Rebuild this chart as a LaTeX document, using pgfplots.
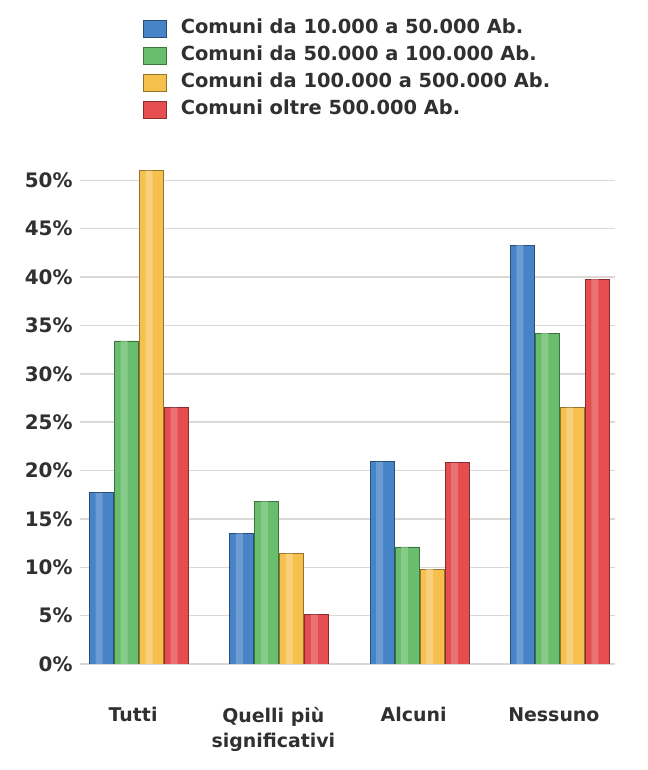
\documentclass[border=0pt]{standalone}
\usepackage{pgfplots}
\usepackage{pgfplotstable}
\pgfplotsset{compat=1.18}
\usepackage{fontspec}
\setmainfont{DejaVu Sans}
\definecolor{cBlue}{HTML}{4683C7}
\definecolor{cGreen}{HTML}{68BE6C}
\definecolor{cYellow}{HTML}{F5C04C}
\definecolor{cRed}{HTML}{E54D4F}
\definecolor{txt}{HTML}{303030}
\definecolor{gridc}{HTML}{DCD8D5}
\pgfplotstableread{
x blue green yellow red
0 17.7 33.4 51.0 26.5
1 13.5 16.8 11.4 5.1
2 20.9 12.1 9.8 20.8
3 43.3 34.2 26.5 39.8
}\datatab
\begin{document}
\begin{tikzpicture}[x=1bp,y=1bp]
\path[use as bounding box] (0,0) rectangle (648,770);
\begin{axis}[
  at={(80bp,106bp)}, anchor=south west,
  scale only axis, width=535bp, height=503bp,
  xmin=-0.421, xmax=3.393, ymin=0, ymax=52,
  ybar, bar width=24bp,
  axis line style={draw=none},
  major tick length=0pt,
  ymajorgrids, grid style={gridc, line width=1.5bp},
  ytick={0,5,10,15,20,25,30,35,40,45,50},
  yticklabels={0\%,5\%,10\%,15\%,20\%,25\%,30\%,35\%,40\%,45\%,50\%},
  yticklabel style={font=\fontsize{20}{22}\selectfont\bfseries, text=txt, xshift=-4bp},
  xtick={0,1,2,3},
  xticklabels={Tutti,{Quelli più\\significativi},Alcuni,Nessuno},
  xticklabel style={font=\fontsize{19}{25}\selectfont\bfseries, text=txt, align=center, anchor=north, yshift=-40bp, xshift=-6bp},
  /pgf/number format/assume math mode=true,
  legend cell align=left,
  legend image code/.code={\fill[#1] (0bp,-8.5bp) rectangle (23bp,8.5bp); \path (30bp,0bp);},
  legend style={at={(0.112,1.289)}, anchor=north west, draw=none, fill=none,
    font=\fontsize{19.5}{21}\selectfont\bfseries, text=txt,
    row sep=5bp,
    nodes={inner xsep=7bp, inner ysep=2bp, text height=14bp, text depth=4bp}},
]
\addplot[bar shift=-37.5bp, fill=cBlue, draw=cBlue!60!black, line width=0.7bp] table[x=x,y=blue] {\datatab};
\addplot[bar shift=-12.5bp, fill=cGreen, draw=cGreen!60!black, line width=0.7bp] table[x=x,y=green] {\datatab};
\addplot[bar shift=12.5bp, fill=cYellow, draw=cYellow!60!black, line width=0.7bp] table[x=x,y=yellow] {\datatab};
\addplot[bar shift=37.5bp, fill=cRed, draw=cRed!60!black, line width=0.7bp] table[x=x,y=red] {\datatab};
\legend{Comuni da 10.000 a 50.000 Ab.,Comuni da 50.000 a 100.000 Ab.,Comuni da 100.000 a 500.000 Ab.,Comuni oltre 500.000 Ab.}
% highlight strips (cylinder look)
\addplot[forget plot, bar width=7bp, bar shift=-40bp, fill=cBlue!65!white, draw=none, fill opacity=0.6] table[x=x,y=blue] {\datatab};
\addplot[forget plot, bar width=7bp, bar shift=-15bp, fill=cGreen!65!white, draw=none, fill opacity=0.6] table[x=x,y=green] {\datatab};
\addplot[forget plot, bar width=7bp, bar shift=10bp, fill=cYellow!55!white, draw=none, fill opacity=0.6] table[x=x,y=yellow] {\datatab};
\addplot[forget plot, bar width=7bp, bar shift=35bp, fill=cRed!65!white, draw=none, fill opacity=0.6] table[x=x,y=red] {\datatab};
\end{axis}
\end{tikzpicture}
\end{document}
